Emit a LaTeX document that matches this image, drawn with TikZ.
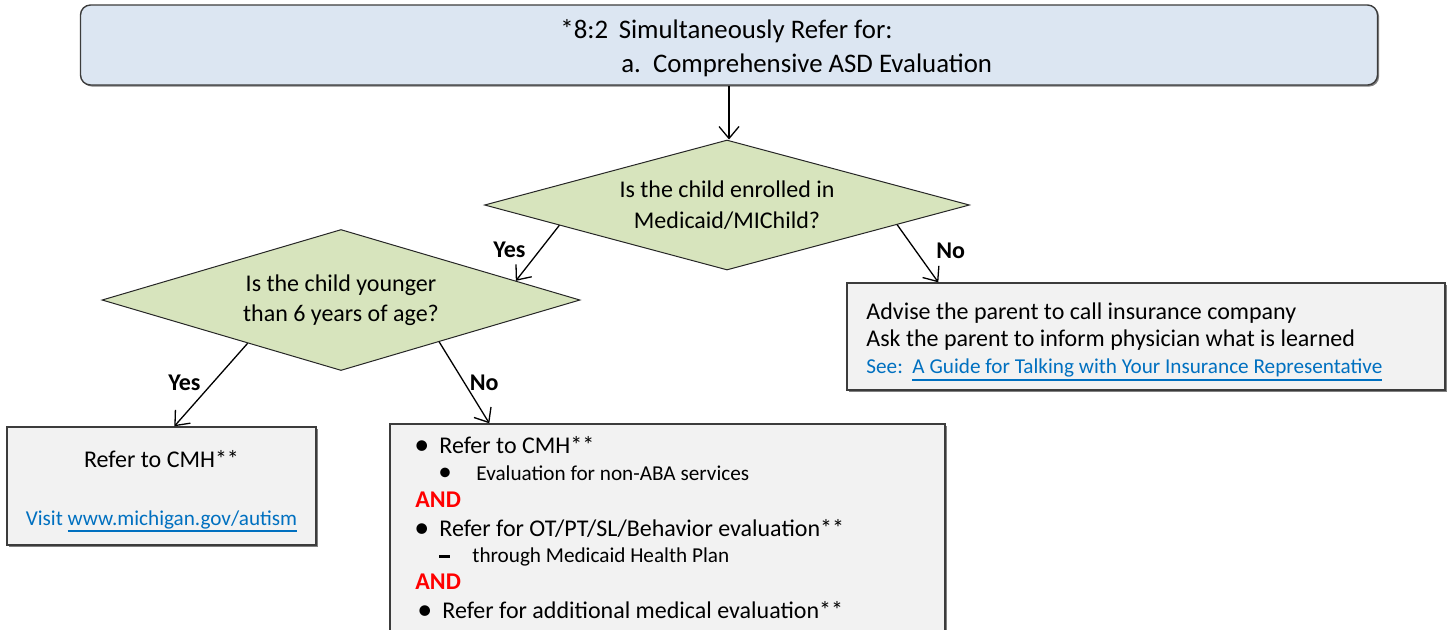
\documentclass[tikz,border=0pt]{standalone}
\usepackage{fontspec}
\setmainfont{Carlito}
\usetikzlibrary{arrows.meta,shapes.geometric,shadows,calc,positioning}

\definecolor{topblue}{HTML}{DCE6F2}
\definecolor{qgreen}{HTML}{D7E4BD}
\definecolor{boxgray}{HTML}{F2F2F2}
\definecolor{linkblue}{HTML}{0070C0}
\definecolor{andred}{HTML}{FF0000}
\definecolor{edgegray}{HTML}{3C3C3C}

\newcommand{\bigtxt}{\fontsize{12}{13.5}\selectfont}
\newcommand{\smalltxt}{\fontsize{10.6}{13}\selectfont}
\newcommand{\linkline}[1]{\setbox0\hbox{#1}\rlap{\rule[-3.4pt]{\wd0}{0.9pt}}\box0}
\newcommand{\bigdot}{\makebox[12.5pt][l]{\fontsize{15}{15}\selectfont\raisebox{-0.5pt}{\textbullet}}}
\newcommand{\subdot}{\makebox[19pt][l]{\fontsize{13.5}{13.5}\selectfont\raisebox{-0.4pt}{\textbullet}}}
\newcommand{\subdash}{\makebox[16.5pt][l]{\rule[2.1pt]{5.5pt}{1.2pt}}}

\begin{document}
\begin{tikzpicture}[x=0.5pt,y=-0.5pt,
  question/.style={diamond,draw=black!85,line width=0.5pt,fill=qgreen,aspect=3.7,
    inner sep=0pt,align=center,font=\fontsize{12}{15.25}\selectfont},
  infobox/.style={rectangle,draw=edgegray,line width=0.7pt,fill=boxgray,inner sep=0pt,
    drop shadow={shadow xshift=0.8pt,shadow yshift=-0.8pt,fill=black!50,opacity=1}},
  titlebox/.style={infobox,fill=topblue,rounded corners=5pt},
  arr/.style={line width=0.65pt,-{Straight Barb[length=6pt,width=10pt,line width=0.65pt]}},
  lbl/.style={font=\bfseries\bigtxt,inner sep=1pt},
  listline/.style={anchor=base west,inner sep=0pt,font=\bigtxt},
  sublist/.style={listline,font=\smalltxt},
  andtxt/.style={listline,font=\bfseries\bigtxt,text=andred}]
  \useasboundingbox (0,0) rectangle (1449,629);

  % boxes and questions
  \node[titlebox,minimum width=648.5pt,minimum height=40pt] (top) at (729,45) {};
  \node[listline,font=\fontsize{13.4}{16}\selectfont] (top_1) at (560,38)
    {*8:2\hspace{0.4em}Simultaneously Refer for:};
  \node[listline,font=\fontsize{13.4}{16}\selectfont] (top_2) at (621,72)
    {a.\hspace{0.45em}Comprehensive ASD Evaluation};

  \node[question,minimum width=242.5pt,minimum height=65pt] (q_mcd) at (727,205)
    {Is the child enrolled in\\Medicaid/MIChild?};
  \node[question,minimum width=239pt,minimum height=70.5pt] (q_age) at (341,300)
    {Is the child younger\\than 6 years of age?};

  \node[infobox,minimum width=299pt,minimum height=53.5pt] (no_ins) at (1146,336.5) {};
  \node[anchor=west,align=left,inner sep=0pt,font=\bigtxt] (no_ins_txt) at (866,342)
    {Advise the parent to call insurance company\\
     Ask the parent to inform physician what is learned\\
     {\smalltxt\color{linkblue}See:\hspace{0.45em}\linkline{A Guide for Talking with Your Insurance Representative}}};

  \node[infobox,minimum width=154.5pt,minimum height=59pt] (yes_cmh) at (161.5,486) {};
  \node[align=center,inner sep=0pt,font=\bigtxt] (yes_cmh_txt) at (161.5,491)
    {Refer to CMH**\\[15.5pt]
     {\smalltxt\color{linkblue}Visit \linkline{www.michigan.gov/autism}}};

  \node[infobox,minimum width=277.5pt,minimum height=118pt] (no_cmh) at (667.5,542) {};
  \node[listline] (n_1) at (414,453) {\bigdot Refer to CMH**};
  \node[sublist] (n_2) at (438,480) {\subdot Evaluation for non-ABA services};
  \node[andtxt] (n_3) at (415,507) {AND};
  \node[listline] (n_4) at (414,536) {\bigdot Refer for OT/PT/SL/Behavior evaluation**};
  \node[sublist] (n_5) at (439,562) {\subdash through Medicaid Health Plan};
  \node[andtxt] (n_6) at (415,589) {AND};
  \node[listline] (n_7) at (417,618) {\bigdot Refer for additional medical evaluation**};

  \path[arr]
  (top.south) edge (top.south |- q_mcd.north)
  ($(q_mcd.west)!0.31!(q_mcd.south)$) edge node[lbl,pos=0.44,left=6pt] {Yes}
    ($(q_age.north)!0.73!(q_age.east)$)
  ($(q_mcd.south)!0.70!(q_mcd.east)$) edge node[lbl,pos=0.45,right=9pt] {No}
    ([xshift=46pt]no_ins.north west)
  ($(q_age.west)!0.61!(q_age.south)$) edge node[lbl,pos=0.47,left=5pt] {Yes}
    ([xshift=84pt]yes_cmh.north west)
  ($(q_age.south)!0.41!(q_age.east)$) edge node[lbl,pos=0.5,right=1.5pt] {No}
    ([xshift=50pt]no_cmh.north west);
\end{tikzpicture}
\end{document}
